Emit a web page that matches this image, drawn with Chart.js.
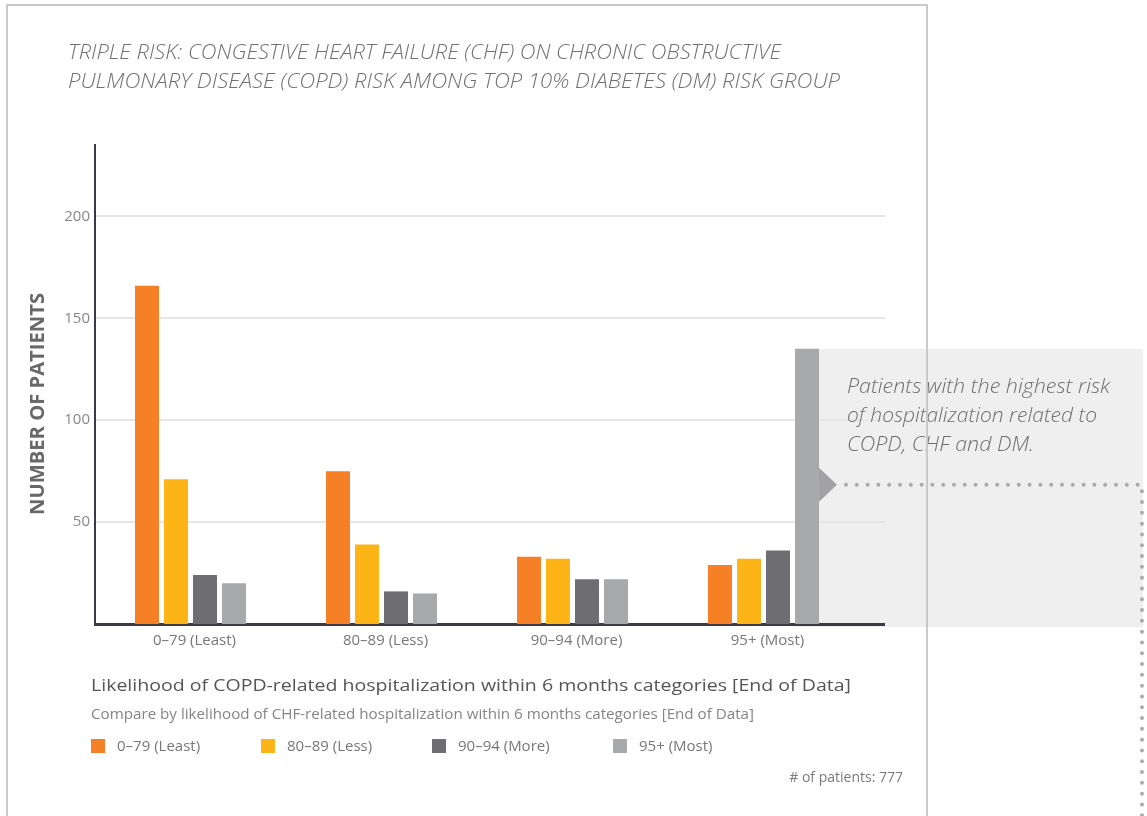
<!DOCTYPE html>
<html lang="en">
<head>
<meta charset="utf-8">
<title>Triple risk: CHF on COPD risk</title>
<script src="https://cdn.jsdelivr.net/npm/chart.js@4.4.1/dist/chart.umd.min.js"></script>
<style>
  html, body { margin: 0; padding: 0; background: #fff; }
  body { position: relative; width: 1147px; height: 816px; overflow: hidden; font-family: 'Open Sans', sans-serif; }
  #panel { position: absolute; left: 6px; top: 4px; width: 918px; height: 900px; border: 2px solid #c9c9c9; z-index: 5; pointer-events: none; }
  #chart { position: absolute; left: 0; top: 0; z-index: 1; }
  .txt { position: absolute; white-space: nowrap; line-height: 1; z-index: 2; transform-origin: 0 50%; }
  .title { left: 68px; font-size: 21px; font-weight: 300; font-style: italic; color: #707070; }
  .note { left: 847px; font-size: 21px; font-weight: 300; font-style: italic; color: #6e6e6e; }
  #yTitle { position: absolute; left: 37px; top: 404px; width: 0; height: 0; z-index: 2; }
  #yTitle span { position: absolute; left: 0; top: 0; white-space: nowrap; line-height: 1; font-size: 20px; font-weight: 700; color: #686868; }
  #xTitle { left: 91px; top: 676px; font-size: 17px; color: #555; }
  #xSub { left: 91px; top: 706px; font-size: 15px; color: #858585; }
  #total { right: 244px; top: 770px; font-size: 14px; color: #7a7a7a; transform-origin: 100% 50%; }
  .key { position: absolute; top: 739px; width: 14px; height: 14px; z-index: 2; }
  .keyText { top: 738px; font-size: 15px; color: #777; }
</style>
</head>
<body>
<div id="panel"></div>
<canvas id="chart" width="1147" height="816"></canvas>

<div class="txt title" style="top:41px" data-fit="713">TRIPLE RISK: CONGESTIVE HEART FAILURE (CHF) ON CHRONIC OBSTRUCTIVE</div>
<div class="txt title" style="top:70px" data-fit="772">PULMONARY DISEASE (COPD) RISK AMONG TOP 10% DIABETES (DM) RISK GROUP</div>

<div id="yTitle"><span data-rot="222">NUMBER OF PATIENTS</span></div>

<div class="txt" id="xTitle" data-fit="760">Likelihood of COPD-related hospitalization within 6 months categories [End of Data]</div>
<div class="txt" id="xSub" data-fit="663">Compare by likelihood of CHF-related hospitalization within 6 months categories [End of Data]</div>
<div id="legend"></div>
<div class="txt" id="total"></div>

<div class="txt note" style="top:375px" data-fit="263">Patients with the highest risk</div>
<div class="txt note" style="top:404px" data-fit="250">of hospitalization related to</div>
<div class="txt note" style="top:433px" data-fit="187">COPD, CHF and DM.</div>

<script>
// categories on the x axis (COPD likelihood) and series (CHF likelihood)
const categories = ['0–79 (Least)', '80–89 (Less)', '90–94 (More)', '95+ (Most)'];
const seriesLabels = ['0–79 (Least)', '80–89 (Less)', '90–94 (More)', '95+ (Most)'];

// number of patients per COPD category, one array per CHF category
const leastRisk = [166, 75, 33, 29];
const lessRisk = [71, 39, 32, 32];
const moreRisk = [24, 16, 22, 36];
const mostRisk = [20, 15, 22, 135];

const yTicks = [50, 100, 150, 200];
const yMax = 235;
const patientTotal = 777;

const seriesColors = ['#f58025', '#fdb417', '#6e6d72', '#a8a9ab'];
const gridColor = '#e6e6e6';
const axisColor = '#3a3a44';
const legendX = [91, 261, 432, 613];

Chart.defaults.font.family = "'Open Sans', sans-serif";

function alignPx(px, w) {
  return Math.round(px - w / 2) + w / 2;
}

// grey box behind the "most" bar, pointer and dotted leader line
const callout = {
  id: 'callout',
  beforeDraw(chart) {
    const { ctx, chartArea } = chart;
    const bar = chart.getDatasetMeta(3).data[3];
    const left = bar.x - bar.width / 2;
    ctx.save();
    ctx.fillStyle = '#efefef';
    ctx.fillRect(left, bar.y, 1143 - left, chartArea.bottom + 3 - bar.y);
    ctx.restore();
  },
  beforeDatasetsDraw(chart) {
    // grid lines and the x axis run a little past the last category
    const { ctx, chartArea, scales } = chart;
    const ext = 26;
    ctx.save();
    ctx.strokeStyle = gridColor;
    ctx.lineWidth = 2;
    scales.y.ticks.forEach(t => {
      const py = alignPx(scales.y.getPixelForValue(t.value), 2);
      ctx.beginPath();
      ctx.moveTo(chartArea.right, py);
      ctx.lineTo(chartArea.right + ext, py);
      ctx.stroke();
    });
    ctx.strokeStyle = axisColor;
    ctx.lineWidth = 3;
    const by = alignPx(chartArea.bottom, 3);
    ctx.beginPath();
    ctx.moveTo(chartArea.right - 2, by);
    ctx.lineTo(chartArea.right + ext, by);
    ctx.stroke();
    ctx.restore();
  },
  afterDatasetsDraw(chart) {
    const { ctx } = chart;
    const bar = chart.getDatasetMeta(3).data[3];
    const x0 = bar.x + bar.width / 2;
    const cy = bar.y + 136;
    ctx.save();
    ctx.fillStyle = '#a2a2a4';
    ctx.beginPath();
    ctx.moveTo(x0, cy - 17);
    ctx.lineTo(x0 + 18, cy);
    ctx.lineTo(x0, cy + 17);
    ctx.closePath();
    ctx.fill();

    ctx.strokeStyle = '#ababab';
    ctx.lineWidth = 4;
    ctx.lineCap = 'round';
    ctx.setLineDash([0, 10.8]);
    ctx.beginPath();
    ctx.moveTo(x0 + 27, cy);
    ctx.lineTo(1142, cy);
    ctx.lineTo(1142, 840);
    ctx.stroke();
    ctx.restore();
  }
};

const chart = new Chart(document.getElementById('chart'), {
  type: 'bar',
  data: {
    labels: categories,
    datasets: [leastRisk, lessRisk, moreRisk, mostRisk].map((values, i) => ({
      label: seriesLabels[i],
      data: values,
      backgroundColor: seriesColors[i],
      borderWidth: 0,
      categoryPercentage: 0.6073,
      barPercentage: 0.8276
    }))
  },
  options: {
    responsive: false,
    animation: false,
    devicePixelRatio: 1,
    layout: { padding: { left: 0, top: 145, right: 288, bottom: 162 } },
    plugins: {
      legend: { display: false },
      tooltip: { enabled: false }
    },
    scales: {
      x: {
        grid: { display: false, drawTicks: false },
        border: { display: true, color: axisColor, width: 3 },
        ticks: { color: '#777', font: { size: 15 }, padding: 8, labelOffset: 4, maxRotation: 0 },
        afterFit: s => { s.height = 30; }
      },
      y: {
        min: 0,
        max: yMax,
        grid: { color: gridColor, lineWidth: 2, drawTicks: false },
        border: { display: true, color: axisColor, width: 2 },
        ticks: { color: '#888', font: { size: 15 }, padding: 5 },
        afterBuildTicks: s => { s.ticks = yTicks.map(v => ({ value: v })); },
        afterFit: s => { s.width = 95; }
      }
    }
  },
  plugins: [callout]
});

// legend under the axis titles
const legend = document.getElementById('legend');
chart.data.datasets.forEach((ds, i) => {
  const sq = document.createElement('div');
  sq.className = 'key';
  sq.style.left = legendX[i] + 'px';
  sq.style.background = ds.backgroundColor;
  legend.appendChild(sq);
  const label = document.createElement('div');
  label.className = 'txt keyText';
  label.style.left = (legendX[i] + 26) + 'px';
  label.textContent = ds.label;
  legend.appendChild(label);
});
document.getElementById('total').textContent = '# of patients: ' + patientTotal;

// squeeze the light captions to their set line widths
function fitText() {
  document.querySelectorAll('[data-fit]').forEach(el => {
    el.style.transform = 'none';
    const w = el.getBoundingClientRect().width;
    el.style.transform = 'scaleX(' + (+el.dataset.fit / w) + ')';
  });
  document.querySelectorAll('[data-rot]').forEach(el => {
    el.style.transform = 'none';
    const w = el.getBoundingClientRect().width;
    el.style.transform = 'translate(-50%, -50%) rotate(-90deg) scaleX(' + (+el.dataset.rot / w) + ')';
  });
}
fitText();
document.fonts.ready.then(fitText);
</script>
</body>
</html>
